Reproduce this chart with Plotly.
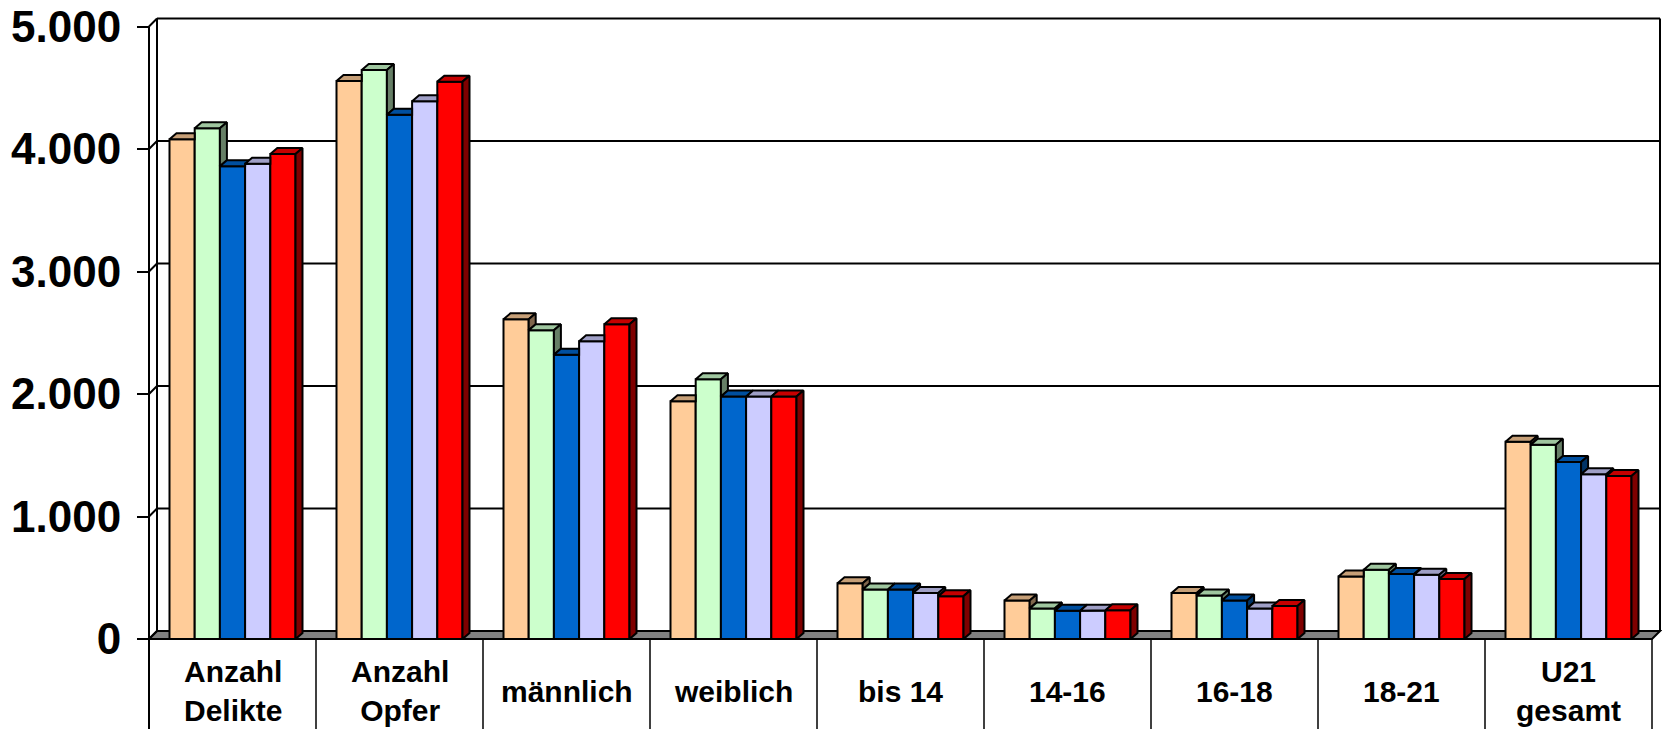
import plotly.graph_objects as go

# ---- data -------------------------------------------------------------
categories = ["Anzahl<br>Delikte", "Anzahl<br>Opfer", "männlich", "weiblich",
              "bis 14", "14-16", "16-18", "18-21", "U21<br>gesamt"]
series_1 = [4080, 4555, 2610, 1940, 455, 315, 375, 510, 1610]
series_2 = [4170, 4645, 2520, 2120, 405, 250, 355, 565, 1585]
series_3 = [3860, 4280, 2320, 1980, 405, 230, 315, 530, 1445]
series_4 = [3880, 4390, 2430, 1980, 375, 230, 250, 525, 1345]
series_5 = [3960, 4550, 2570, 1980, 350, 235, 270, 490, 1330]
series_names = ["Reihe 1", "Reihe 2", "Reihe 3", "Reihe 4", "Reihe 5"]
tick_values = [0, 1000, 2000, 3000, 4000, 5000]
tick_labels = ["0", "1.000", "2.000", "3.000", "4.000", "5.000"]

front_colors = ["#FFCC99", "#CCFFCC", "#0066CC", "#CCCCFF", "#FF0000"]

# ---- geometry (pixel based, converted to axis units) --------------------
W, H = 1662, 729
AXIS_PX = 149          # x pixel of the front value axis
CAT_PX = 167.0         # width of one category slot
ZERO_PX = 639          # y pixel of value 0 on the front plane
PX_PER_VAL = 0.1225    # pixels per value unit


def ypx(p):
    return (ZERO_PX - p) / PX_PER_VAL


X_MIN = -0.5 - AXIS_PX / CAT_PX
X_MAX = -0.5 + (W - AXIS_PX) / CAT_PX
Y_MIN = ypx(H)
Y_MAX = ypx(0)

WALL_DX, WALL_DY = 8 / CAT_PX, 8 / PX_PER_VAL
BAR_DX, BAR_DY = 7 / CAT_PX, 6 / PX_PER_VAL
BW = 25.2 / CAT_PX
N = len(categories)
X_LEFT, X_RIGHT = -0.5, N - 0.5


def shade(hex_color, f):
    h = hex_color.lstrip("#")
    r, g, b = (int(h[i:i + 2], 16) for i in (0, 2, 4))
    return "#%02X%02X%02X" % (int(r * f), int(g * f), int(b * f))


all_series = [series_1, series_2, series_3, series_4, series_5]

fig = go.Figure()

# front faces of the columns
for s, vals in enumerate(all_series):
    fig.add_trace(go.Bar(
        x=[i + (s - 2) * BW for i in range(N)], y=vals, width=BW,
        name=series_names[s],
        marker=dict(color=front_colors[s], line=dict(color="black", width=2)),
        hoverinfo="skip", showlegend=False,
    ))

# top and side faces (visible parts only)
for s, vals in enumerate(all_series):
    tx, ty, sx, sy = [], [], [], []
    for i in range(N):
        v = vals[i]
        nxt = all_series[s + 1][i] if s < len(all_series) - 1 else 0
        x0 = i + (s - 2.5) * BW
        x1 = x0 + BW
        # top face, trimmed where the next (taller) column covers it
        if nxt <= v:
            px = [x0, x1, x1 + BAR_DX, x0 + BAR_DX]
            py = [v, v, v + BAR_DY, v + BAR_DY]
        elif nxt >= v + BAR_DY:
            px = [x0, x1, x1, x0 + BAR_DX]
            py = [v, v, v + BAR_DY, v + BAR_DY]
        else:
            t = (nxt - v) / BAR_DY
            px = [x0, x1, x1, x1 + BAR_DX * t, x1 + BAR_DX, x0 + BAR_DX]
            py = [v, v, nxt, nxt, v + BAR_DY, v + BAR_DY]
        tx += px + [px[0], None]
        ty += py + [py[0], None]
        # right side face above the next column
        if v > nxt:
            qx = [x1, x1, x1 + BAR_DX, x1 + BAR_DX]
            qy = [nxt, v, v + BAR_DY, nxt + BAR_DY]
            sx += qx + [qx[0], None]
            sy += qy + [qy[0], None]
    fig.add_trace(go.Scatter(
        x=tx, y=ty, mode="lines", fill="toself",
        fillcolor=shade(front_colors[s], 0.78),
        line=dict(color="black", width=2), hoverinfo="skip", showlegend=False,
    ))
    fig.add_trace(go.Scatter(
        x=sx, y=sy, mode="lines", fill="toself",
        fillcolor=shade(front_colors[s], 0.5),
        line=dict(color="black", width=2), hoverinfo="skip", showlegend=False,
    ))

# walls, floor and the category table
shapes = []


def seg(x0, y0, x1, y1, width=2):
    shapes.append(dict(type="line", xref="x", yref="y", x0=x0, y0=y0, x1=x1, y1=y1,
                       line=dict(color="black", width=width), layer="below"))


floor_path = "M {},{} L {},{} L {},{} L {},{} Z".format(
    X_LEFT, 0, X_RIGHT, 0, X_RIGHT + WALL_DX, WALL_DY, X_LEFT + WALL_DX, WALL_DY)
shapes.append(dict(type="path", xref="x", yref="y", path=floor_path,
                   fillcolor="#808080", line=dict(color="black", width=2), layer="below"))

for v in tick_values[1:]:
    seg(X_LEFT + WALL_DX, v + WALL_DY, X_RIGHT + WALL_DX, v + WALL_DY)
for v in tick_values:
    seg(X_LEFT, v, X_LEFT + WALL_DX, v + WALL_DY)
seg(X_LEFT + WALL_DX, WALL_DY, X_LEFT + WALL_DX, tick_values[-1] + WALL_DY)
seg(X_RIGHT + WALL_DX, WALL_DY, X_RIGHT + WALL_DX, tick_values[-1] + WALL_DY)
seg(X_LEFT, tick_values[-1], X_LEFT, Y_MIN)
for k in range(1, N + 1):
    seg(X_LEFT + k, 0, X_LEFT + k, Y_MIN, width=1.5)

annotations = []
for i, label in enumerate(categories):
    annotations.append(dict(
        x=i, y=ypx(691), xref="x", yref="y", text=label, showarrow=False,
        xanchor="center", yanchor="middle", align="center",
        font=dict(family="Liberation Sans", size=30, color="black", weight="bold"),
    ))

fig.update_layout(
    width=W, height=H,
    margin=dict(l=0, r=0, t=0, b=0),
    paper_bgcolor="white", plot_bgcolor="white",
    barmode="overlay", showlegend=False,
    shapes=shapes, annotations=annotations,
    xaxis=dict(range=[X_MIN, X_MAX], visible=False, fixedrange=True),
    yaxis=dict(
        range=[Y_MIN, Y_MAX], anchor="free", position=AXIS_PX / W,
        tickmode="array", tickvals=tick_values, ticktext=tick_labels,
        ticks="outside", ticklen=12, tickwidth=2, tickcolor="black",
        ticklabelstandoff=7,
        tickfont=dict(family="Liberation Sans", size=44, color="black", weight="bold"),
        showgrid=False, zeroline=False, showline=False, fixedrange=True,
    ),
)

fig.write_html("out.html")
